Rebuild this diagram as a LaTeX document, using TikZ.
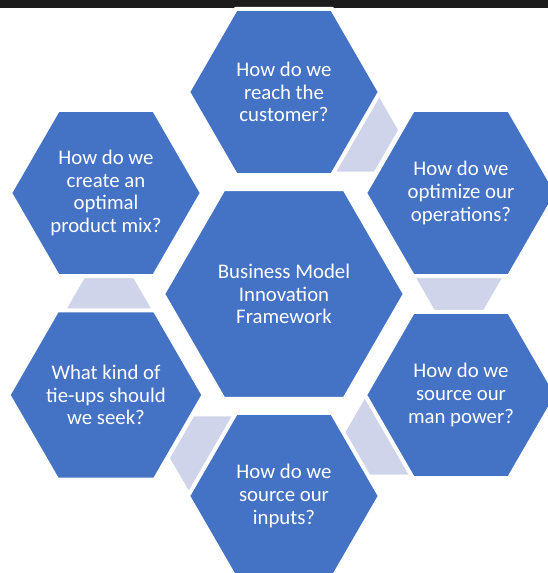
\documentclass[tikz,border=0pt]{standalone}
\usepackage{fontspec}
\setmainfont{Carlito}
\usetikzlibrary{shapes.geometric,positioning}
\definecolor{hexblue}{RGB}{68,114,196}
\definecolor{linklav}{RGB}{208,212,234}
\definecolor{barcol}{RGB}{28,28,28}

\begin{document}
\begin{tikzpicture}[x=1pt,y=1pt,node distance=202pt,on grid,
    hexa/.style={regular polygon,regular polygon sides=6,fill=hexblue,draw=white,
      line width=4pt,inner sep=0pt,text=white,align=center,
      font=\fontsize{20.8}{22.8}\selectfont},
    hexout/.style={hexa,minimum size=192pt},
    hexlink/.style={regular polygon,regular polygon sides=6,fill=linklav,
      minimum size=96pt,inner sep=0pt}]
   \useasboundingbox (0,0) rectangle (548,573);
   \clip (0,0) rectangle (548,573);
   \fill[barcol] (0,565) rectangle (548,573);

   \node[hexa,minimum size=242pt] (core) at (284,279) {Business Model\\Innovation\\Framework};

   % light links, drawn before the ring so the ring covers them
   \node[hexlink] (l_1) [above right=164pt and 66pt of core] {};
   \node[hexlink] (l_2) [above right=25pt and 175pt of core] {};
   \node[hexlink] (l_3) [below right=139pt and 109pt of core] {};
   \node[hexlink] (l_4) [below left=164pt and 66pt of core] {};
   \node[hexlink] (l_5) [below left=25pt and 175pt of core] {};

   \node[hexout] (reach) [above =of core] {How do we\\reach the\\customer?};
   \node[hexout] (optim) [above right=101pt and 177pt of core] {How do we\\optimize our\\operations?};
   \node[hexout] (manpw) [below right=101pt and 177pt of core] {How do we\\source our\\man power?};
   \node[hexout] (input) [below =of core] {How do we\\source our\\inputs?};
   \node[hexout] (tieup) [below left=101pt and 178pt of core] {What kind of\\tie-ups should\\we seek?};
   \node[hexout] (pmix) [above left=101pt and 178pt of core] {How do we\\create an\\optimal\\product mix?};
\end{tikzpicture}
\end{document}
